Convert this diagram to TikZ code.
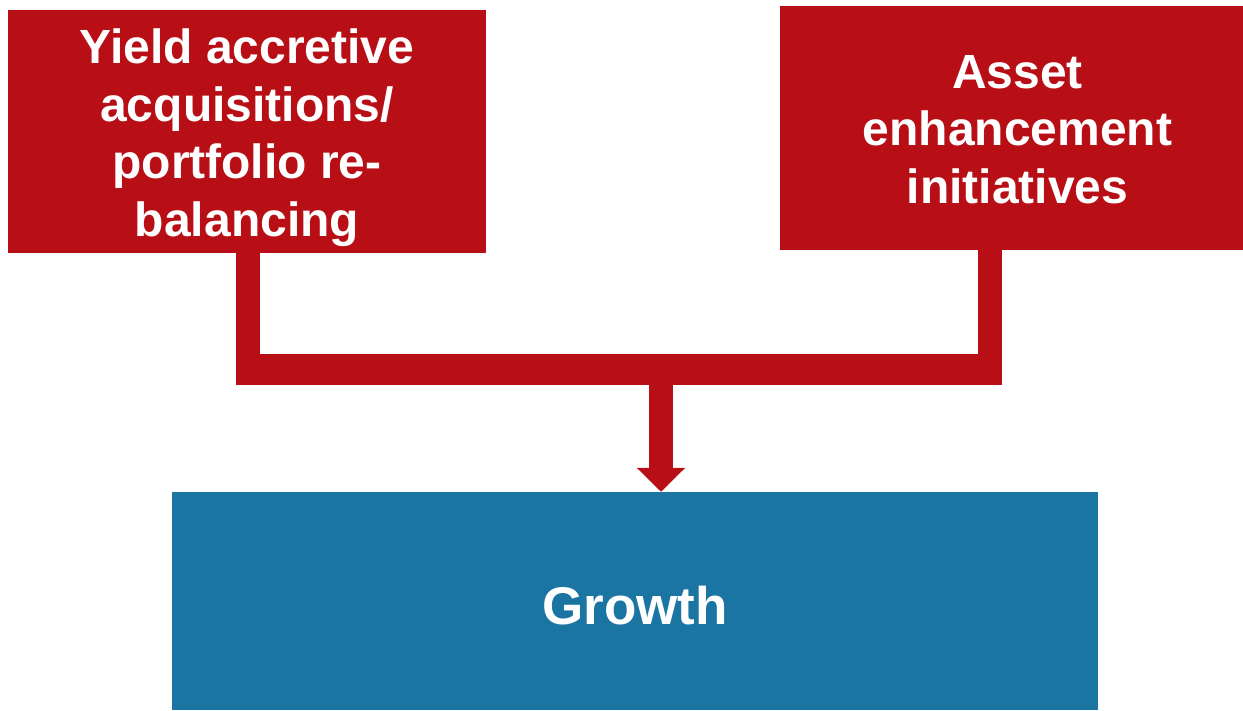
\documentclass[tikz,border=0pt]{standalone}
\usepackage{fontspec}
\setmainfont{Liberation Sans}
\usetikzlibrary{arrows.meta}
\definecolor{boxred}{HTML}{B70F15}
\definecolor{boxblue}{HTML}{1B75A3}
\begin{document}
\begin{tikzpicture}[x=1pt,y=-1pt,
  redtext/.style={text=white,inner sep=0pt,align=center,
    font=\fontsize{48}{57.5}\selectfont\bfseries},
  bluetext/.style={text=white,inner sep=0pt,align=center,
    font=\fontsize{53}{60}\selectfont\bfseries},
  redbox/.style={fill=boxred,inner sep=0pt},
  bluebox/.style={fill=boxblue,inner sep=0pt},
  link/.style={draw=boxred,line width=24pt}]
\useasboundingbox (0,0) rectangle (1243,710);
\node[redbox,minimum width=478pt,minimum height=243pt,
  label={[redtext,yshift=-6pt]center:{Yield accretive\\acquisitions/\\portfolio re-\\balancing}}] (a) at (247,131.5) {};
\node[redbox,minimum width=463pt,minimum height=244pt,
  label={[redtext,yshift=-2pt,xshift=6pt]center:{Asset\\enhancement\\initiatives}}] (b) at (1011.5,127.5) {};
\node[bluebox,minimum width=926pt,minimum height=218pt,
  label={[bluetext,yshift=-5pt]center:Growth}] (g) at (635,601) {};
\coordinate (jl) at (236,369.5);
\coordinate (jr) at (1002,369.5);
\coordinate (jc) at (661,369.5);
\draw[link] (a.south -| 248,0) -- (248,369.5);
\draw[link] (b.south -| 990,0) -- (990,369.5);
\draw[draw=boxred,line width=31pt] (jl) -- (jr);
\draw[link,-{Triangle[width=47pt,length=24pt]}] (661,384) -- (g.north -| jc);
\end{tikzpicture}
\end{document}
